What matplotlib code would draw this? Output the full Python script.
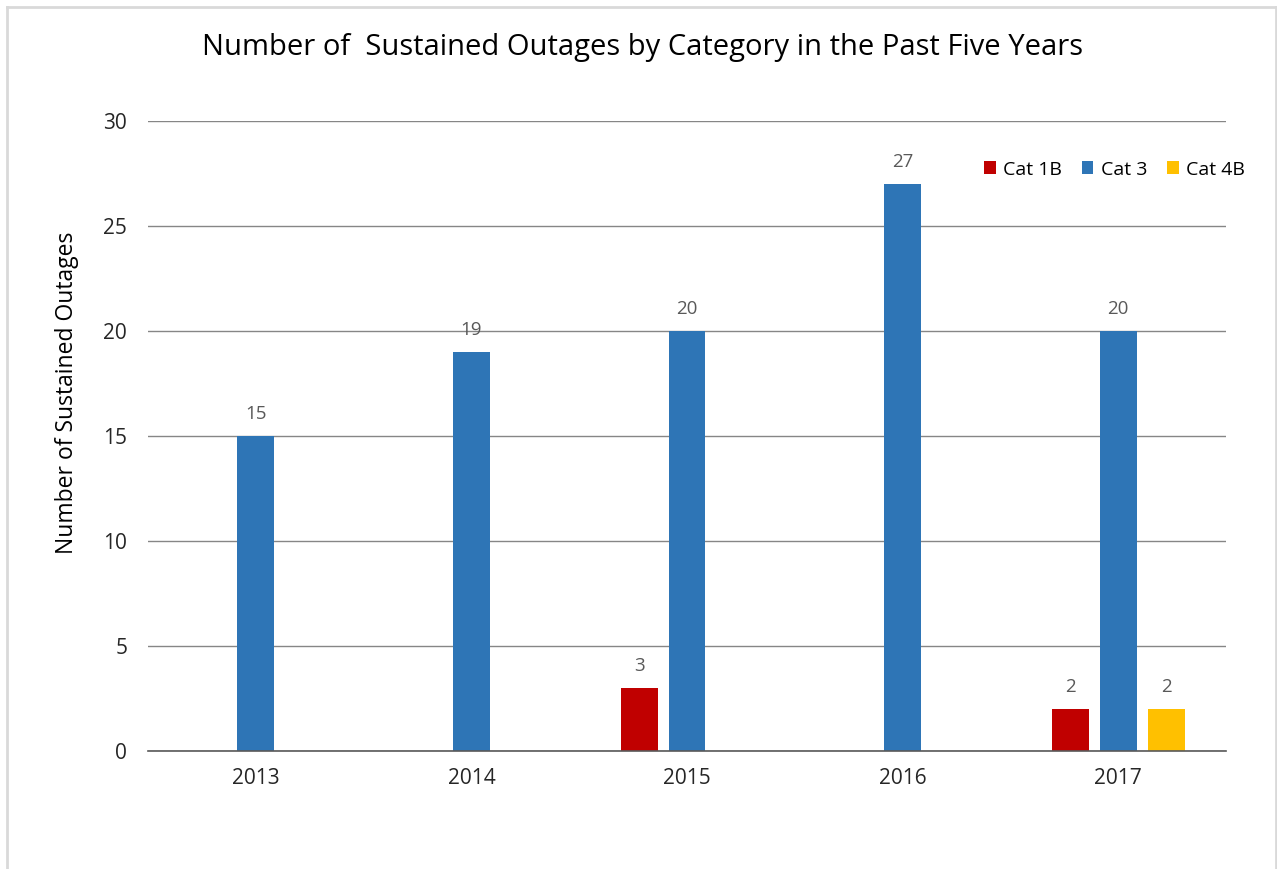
import numpy as np
import matplotlib.pyplot as plt
from matplotlib.lines import Line2D

years = ["2013", "2014", "2015", "2016", "2017"]
cat_1b = [0, 0, 3, 0, 2]
cat_3 = [15, 19, 20, 27, 20]
cat_4b = [0, 0, 0, 0, 2]

series = [
    ("Cat 1B", cat_1b, "#c00000", -0.222),
    ("Cat 3", cat_3, "#2e75b6", 0.0),
    ("Cat 4B", cat_4b, "#ffc000", 0.222),
]

plt.rcParams["font.family"] = ["Open Sans", "DejaVu Sans"]

fig = plt.figure(figsize=(12.77, 8.69), dpi=100)
ax = fig.add_axes([0.1159, 0.1358, 0.8442, 0.725])

# light frame (top, left, right) like the cropped excel chart area
W, H = 1277.0, 869.0
frame = dict(transform=fig.transFigure, color="#d9d9d9", linewidth=2)
fig.lines.append(Line2D([7 / W, 7 / W], [0, 1 - 7 / H], **frame))
fig.lines.append(Line2D([7 / W, 1275.5 / W], [1 - 7 / H, 1 - 7 / H], **frame))
fig.lines.append(Line2D([1275.5 / W, 1275.5 / W], [0, 1 - 7 / H], **frame))

x = np.arange(len(years))
width = 0.171
for name, vals, color, off in series:
    vals = np.array(vals)
    shown = vals > 0
    bars = ax.bar(x[shown] + off, vals[shown], width, color=color, label=name, zorder=3)
    for b, v in zip(bars, vals[shown]):
        ax.text(b.get_x() + b.get_width() / 2, v + 0.6, str(v),
                ha="center", va="bottom", fontsize=13.5, color="#595959")

ax.set_xlim(-0.5, len(years) - 0.5)
ax.set_ylim(0, 30)
ax.set_yticks(range(0, 31, 5))
ax.set_xticks(x)
ax.set_xticklabels(years)
ax.tick_params(axis="both", length=0, labelsize=15, colors="#262626")
ax.tick_params(axis="x", pad=12)
ax.tick_params(axis="y", pad=15)
ax.yaxis.grid(True, color="#868686", linewidth=1, zorder=0)
for s in ["top", "right", "left"]:
    ax.spines[s].set_visible(False)
ax.spines["bottom"].set_color("#595959")
ax.spines["bottom"].set_linewidth(1.2)
ax.spines["bottom"].set_zorder(4)

ax.set_ylabel("Number of Sustained Outages", fontsize=16.5, color="#000000")
ax.yaxis.set_label_coords(-0.064, 0.568)
fig.text(0.503, 1 - 48 / H, "Number of  Sustained Outages by Category in the Past Five Years",
         ha="center", va="center", fontsize=21, color="#000000")

ax.legend(loc="upper right", bbox_to_anchor=(1.034, 0.965), ncol=3, frameon=False,
          fontsize=14, handlelength=0.6, handleheight=0.6, handletextpad=0.4,
          columnspacing=1.0)

fig.savefig("out.png", dpi=100)
